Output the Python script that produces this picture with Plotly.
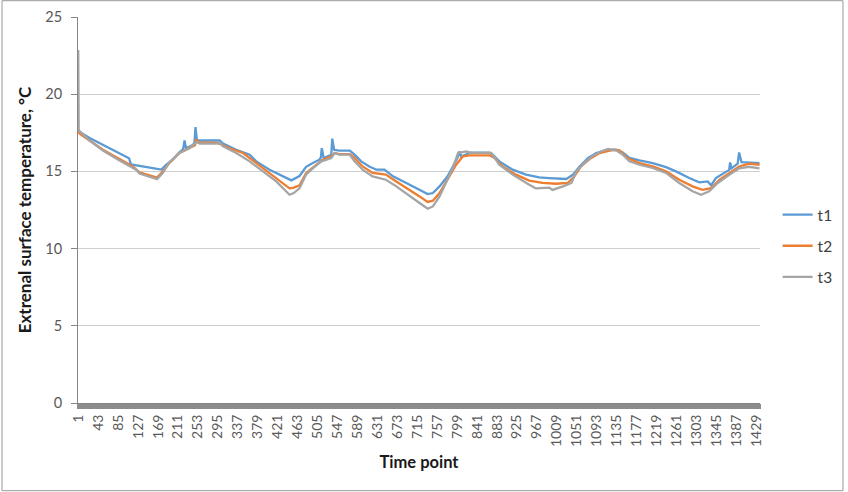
import plotly.graph_objects as go

# ---- data ----
T1_TIME = [1, 4, 25, 53, 81, 108, 112, 137, 165, 176, 186, 200, 214, 222, 225, 228, 243, 246, 248, 251,
           257, 299, 306, 334, 362, 376, 404, 432, 450, 467, 481, 495, 509, 512, 514, 518, 534, 536, 540,
           551, 573, 583, 597, 614, 629, 646, 664, 692, 720, 737, 748, 762, 779, 793, 802, 804, 808, 815,
           825, 867, 874, 888, 916, 944, 972, 993, 1029, 1043, 1057, 1075, 1092, 1113, 1134, 1148, 1162,
           1183, 1211, 1239, 1260, 1288, 1309, 1327, 1334, 1344, 1365, 1372, 1374, 1377, 1390, 1393, 1398,
           1436]
T1_VALS = [17.7, 17.55, 17.16, 16.73, 16.3, 15.85, 15.45, 15.32, 15.15, 15.12, 15.43, 15.76, 16.23, 16.45,
           17.0, 16.5, 16.73, 16.9, 17.87, 17.0, 17.0, 17.0, 16.8, 16.4, 16.08, 15.65, 15.11, 14.68, 14.42,
           14.7, 15.3, 15.54, 15.76, 15.9, 16.5, 15.86, 16.08, 17.12, 16.4, 16.34, 16.34, 16.08, 15.65,
           15.32, 15.11, 15.11, 14.68, 14.25, 13.81, 13.53, 13.6, 14.03, 14.68, 15.54, 16.0, 16.3, 15.97,
           16.05, 16.21, 16.21, 16.08, 15.65, 15.11, 14.79, 14.61, 14.57, 14.51, 14.79, 15.32, 15.87, 16.19,
           16.36, 16.4, 16.23, 15.87, 15.71, 15.54, 15.28, 15.0, 14.57, 14.29, 14.35, 14.1, 14.57, 15.0,
           15.1, 15.58, 15.2, 15.5, 16.23, 15.6, 15.54]

T2_TIME = [1, 4, 25, 53, 88, 116, 130, 151, 167, 176, 193, 214, 235, 247, 250, 254, 295, 320, 348, 376,
           404, 432, 446, 455, 467, 481, 495, 516, 534, 541, 551, 573, 583, 600, 621, 649, 671, 699, 720,
           737, 748, 762, 779, 797, 811, 825, 867, 878, 895, 923, 951, 979, 1008, 1032, 1046, 1060, 1078,
           1099, 1127, 1141, 1158, 1183, 1211, 1239, 1267, 1295, 1316, 1334, 1352, 1373, 1393, 1414, 1436]
T2_VALS = [17.6, 17.45, 17.0, 16.4, 15.8, 15.32, 14.94, 14.72, 14.6, 14.9, 15.54, 16.19, 16.5, 16.7, 17.1,
           16.88, 16.85, 16.5, 16.19, 15.54, 14.9, 14.25, 13.9, 13.95, 14.09, 14.9, 15.22, 15.76, 15.97,
           16.19, 16.12, 16.12, 15.87, 15.32, 14.9, 14.79, 14.35, 13.81, 13.38, 13.02, 13.1, 13.6, 14.46,
           15.43, 15.97, 16.04, 16.04, 15.87, 15.32, 14.79, 14.4, 14.25, 14.2, 14.25, 14.68, 15.32, 15.8,
           16.19, 16.4, 16.36, 15.87, 15.54, 15.32, 15.0, 14.46, 14.03, 13.81, 13.92, 14.46, 14.9, 15.32,
           15.5, 15.43]

T3_TIME = [1, 2, 25, 53, 88, 123, 130, 151, 167, 179, 193, 214, 235, 250, 257, 300, 306, 334, 362, 390,
           418, 446, 455, 467, 481, 495, 513, 534, 541, 551, 573, 583, 600, 621, 649, 671, 699, 720, 737,
           748, 762, 776, 790, 801, 818, 829, 871, 888, 916, 951, 965, 993, 1000, 1022, 1040, 1050, 1067,
           1085, 1103, 1117, 1134, 1148, 1162, 1183, 1211, 1239, 1267, 1295, 1313, 1330, 1348, 1373, 1393,
           1414, 1436]
T3_VALS = [22.86, 17.66, 17.0, 16.35, 15.7, 15.11, 14.86, 14.66, 14.5, 14.9, 15.6, 16.19, 16.5, 16.9, 16.8,
           16.8, 16.62, 16.19, 15.65, 15.0, 14.35, 13.49, 13.6, 13.9, 14.8, 15.2, 15.65, 15.87, 16.19,
           16.08, 16.08, 15.65, 15.11, 14.68, 14.46, 14.03, 13.38, 12.95, 12.58, 12.73, 13.38, 14.25,
           15.22, 16.19, 16.3, 16.2, 16.2, 15.43, 14.79, 14.14, 13.9, 13.95, 13.8, 14.03, 14.25, 15.0,
           15.54, 16.02, 16.3, 16.45, 16.36, 16.08, 15.65, 15.43, 15.22, 14.9, 14.25, 13.71, 13.49, 13.71,
           14.25, 14.79, 15.2, 15.3, 15.2]

X_TICKS = [1, 43, 85, 127, 169, 211, 253, 295, 337, 379, 421, 463, 505, 547, 589, 631, 673, 715, 757,
           799, 841, 883, 925, 967, 1009, 1051, 1093, 1135, 1177, 1219, 1261, 1303, 1345, 1387, 1429]
Y_TICKS = [0, 5, 10, 15, 20, 25]

SERIES = [("t1", T1_TIME, T1_VALS, "#5B9BD5"),
          ("t2", T2_TIME, T2_VALS, "#ED7D31"),
          ("t3", T3_TIME, T3_VALS, "#A5A5A5")]

FONT = "Lato, Open Sans, sans-serif"
AXIS_GRAY = "#868686"

fig = go.Figure()
for name, xs, ys, col in SERIES:
    fig.add_trace(go.Scatter(x=xs, y=ys, mode="lines", name=name, legendgroup=name,
                             line=dict(color=col, width=2.3)))

fig.update_layout(
    width=848, height=492,
    margin=dict(l=78, r=88, t=17, b=89, autoexpand=False),
    paper_bgcolor="white", plot_bgcolor="white",
    font=dict(family=FONT, color="#595959", size=14),
    showlegend=True,
    legend=dict(xref="container", yref="container",
                x=0.917, xanchor="left", y=0.50, yanchor="middle",
                font=dict(size=15.5, color="#404040"), traceorder="grouped",
                tracegroupgap=8, bgcolor="rgba(0,0,0,0)"),
    xaxis=dict(
        range=[0.5, 1437], tickmode="array", tickvals=X_TICKS,
        ticktext=[str(v) for v in X_TICKS], tickangle=-90,
        tickfont=dict(size=14, color="#595959"),
        showgrid=False, zeroline=False, automargin=False,
        showline=True, linecolor=AXIS_GRAY, linewidth=1,
        ticks="outside", ticklen=5, tickcolor="#8c8c8c", tickwidth=1,
        minor=dict(dtick=2, tick0=1, ticks="outside", ticklen=5, tickcolor="#8c8c8c",
                   tickwidth=1.5, showgrid=False),
        title=dict(text="<b>Time point</b>", font=dict(size=16.5, color="#1a1a1a"), standoff=10),
    ),
    yaxis=dict(
        range=[0, 25], tickmode="array", tickvals=Y_TICKS,
        tickfont=dict(size=14.5, color="#595959"),
        showgrid=True, gridcolor="#CFCFCF", gridwidth=1, zeroline=False, automargin=False,
        showline=True, linecolor=AXIS_GRAY, linewidth=1,
        ticks="outside", ticklen=6, tickcolor=AXIS_GRAY, ticklabelstandoff=6,
        title=dict(text="<b>Extrenal surface temperature, °C</b>",
                   font=dict(size=17, color="#1a1a1a"), standoff=9),
    ),
)

# chart border
fig.add_shape(type="rect", xref="paper", yref="paper",
              x0=-0.1114, x1=1.1217, y0=-0.2272, y1=1.0422,
              line=dict(color="#999999", width=1), fillcolor="rgba(0,0,0,0)", layer="below")

fig.write_html("out.html", config={"displayModeBar": False},
               post_script="document.body.style.margin='0';document.body.style.padding='0';")
